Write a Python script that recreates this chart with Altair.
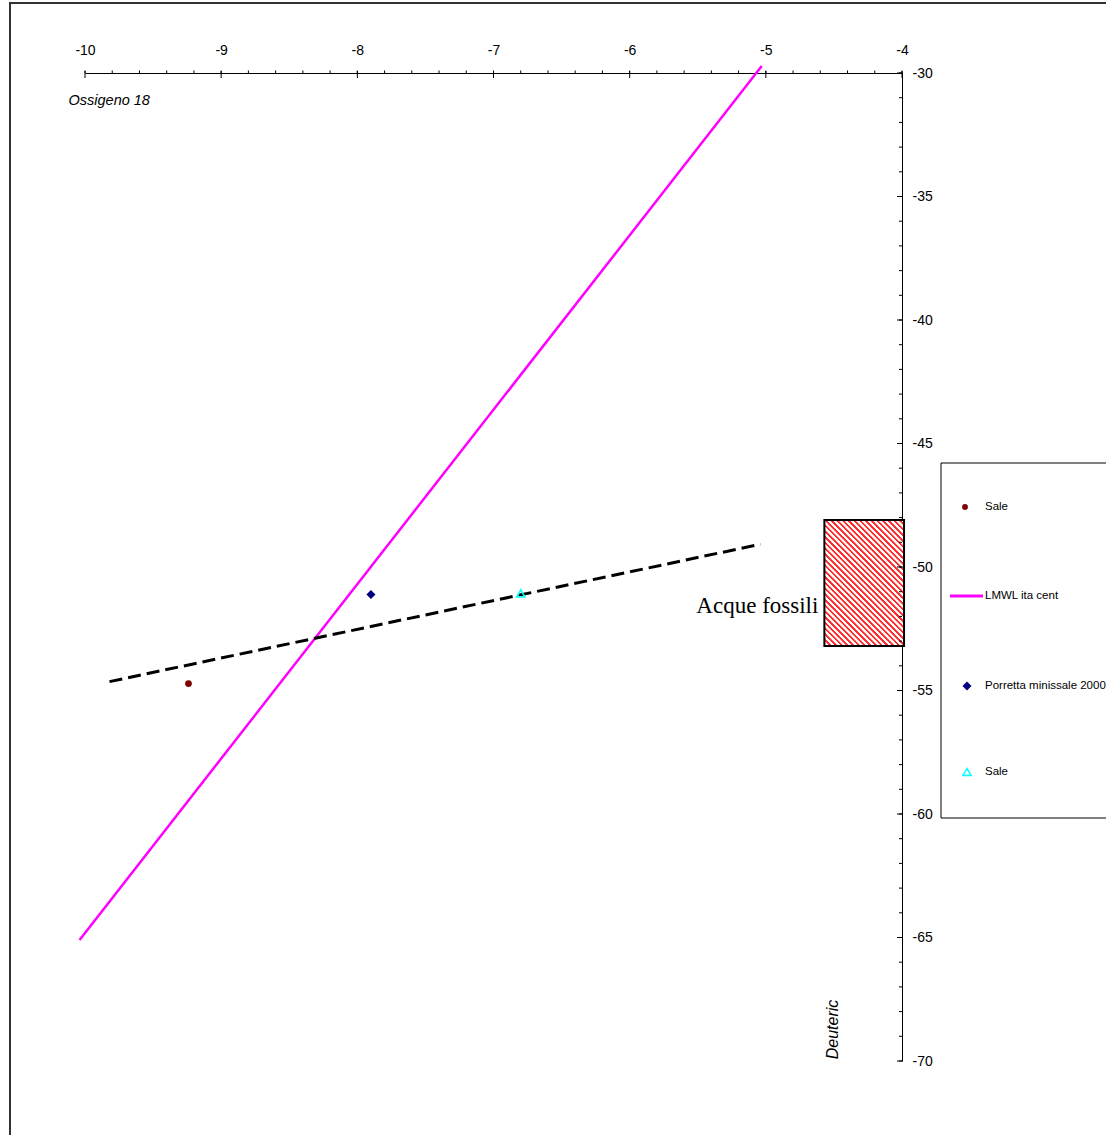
import altair as alt
import pandas as pd

# --- isotope data (delta 18O on x, delta D on y) ---
sale_o18 = [-9.24]
sale_dd = [-54.72]
porretta_o18 = [-7.90]
porretta_dd = [-51.11]
sale2_o18 = [-6.80]
sale2_dd = [-51.07]

# local meteoric water line, central Italy
lmwl_o18 = [-10.04, -5.03]
lmwl_dd = [-65.10, -29.72]

# dashed trend through the samples
trend_o18 = [-9.82, -5.04]
trend_dd = [-54.64, -49.08]

# fossil-water field
fossil_o18 = [-4.57, -3.985]
fossil_dd = [-53.20, -48.10]
fossil_label = "Acque fossili"
fossil_label_dd = -51.86

legend_names = ["Sale", "LMWL ita cent", "Porretta minissale 2000", "Sale"]

x_major = [-10, -9, -8, -7, -6, -5, -4]
x_minor = [round(-10 + 0.2 * i, 1) for i in range(31)]
y_major = [-70, -65, -60, -55, -50, -45, -40, -35, -30]
y_minor = list(range(-70, -29))

W, H = 817, 988
FONT = "Liberation Sans"

xs = alt.Scale(domain=[-10, -4], nice=False, zero=False)
ys = alt.Scale(domain=[-70, -30], nice=False, zero=False)

x_axis = alt.Axis(
    orient="top", values=x_major, ticks=False, tickSize=0, grid=False,
    labelExpr="'' + datum.value", labelPadding=16, labelFontSize=14,
    labelFlush=False, labelOverlap=False,
    labelFont=FONT, labelColor="black", domainColor="black", domainWidth=1,
    title="Ossigeno 18", titleFont=FONT, titleFontSize=14.5,
    titleFontStyle="italic", titleFontWeight="normal", titleColor="black",
    titleX=-17, titleY=31, titleAlign="left", titleBaseline="alphabetic",
)
y_axis = alt.Axis(
    orient="right", values=y_major, ticks=False, tickSize=0, grid=False,
    labelExpr="'' + datum.value", labelPadding=10, labelFontSize=14,
    labelFlush=False, labelOverlap=False,
    labelFont=FONT, labelColor="black", domainColor="black", domainWidth=1,
    title="Deuteric", titleFont=FONT, titleFontSize=16,
    titleFontStyle="italic", titleFontWeight="normal", titleColor="black",
    titleX=-70, titleY=956, titleAngle=270, titleAlign="center",
    titleBaseline="middle",
)


def xq(field):
    return alt.X(f"{field}:Q", scale=xs, axis=x_axis)


def yq(field):
    return alt.Y(f"{field}:Q", scale=ys, axis=y_axis)


# outer chart frame
frame = alt.Chart(pd.DataFrame({"k": [0]})).mark_rect(
    fill="transparent", stroke="#333333", strokeWidth=2
).encode(x=alt.value(-75), x2=alt.value(W + 400), y=alt.value(-70), y2=alt.value(H + 300))

lmwl = alt.Chart(pd.DataFrame({"o18": lmwl_o18, "dd": lmwl_dd})).mark_line(
    color="#ff00ff", strokeWidth=2.5
).encode(x=xq("o18"), y=yq("dd"))

trend = alt.Chart(pd.DataFrame({"o18": trend_o18, "dd": trend_dd})).mark_line(
    color="black", strokeWidth=3, strokeDash=[13, 6]
).encode(x=xq("o18"), y=yq("dd"))

# diagonal red hatch for the fossil-water box
N = 36
RED_PART = 0.42
stops = []
for i in range(N):
    a, b, c = i / N, (i + RED_PART) / N, (i + 1) / N
    stops += [
        {"offset": a, "color": "#ff2a2a"},
        {"offset": b - 0.002, "color": "#ff2a2a"},
        {"offset": b + 0.002, "color": "#ffffff"},
        {"offset": c - 0.002, "color": "#ffffff"},
    ]
hatch = {"gradient": "linear", "stops": stops, "x1": 0, "y1": 1, "x2": 0.74, "y2": -0.165}

fossil = alt.Chart(pd.DataFrame({
    "x1": [fossil_o18[0]], "x2": [fossil_o18[1]],
    "y1": [fossil_dd[0]], "y2": [fossil_dd[1]],
})).mark_rect(fill=hatch, stroke="black", strokeWidth=2).encode(
    x=xq("x1"), x2="x2:Q", y=yq("y1"), y2="y2:Q"
)

fossil_text = alt.Chart(pd.DataFrame({
    "o18": [fossil_o18[0]], "dd": [fossil_label_dd], "t": [fossil_label]
})).mark_text(
    align="right", baseline="alphabetic", dx=-6, font="Liberation Serif",
    fontSize=23, color="black"
).encode(x=xq("o18"), y=yq("dd"), text="t:N")

pt_sale = alt.Chart(pd.DataFrame({"o18": sale_o18, "dd": sale_dd})).mark_point(
    shape="circle", filled=True, size=45, color="#800000", opacity=1
).encode(x=xq("o18"), y=yq("dd"))

pt_porretta = alt.Chart(pd.DataFrame({"o18": porretta_o18, "dd": porretta_dd})).mark_point(
    shape="diamond", filled=True, size=82, color="#000080", opacity=1
).encode(x=xq("o18"), y=yq("dd"))

pt_sale2 = alt.Chart(pd.DataFrame({"o18": sale2_o18, "dd": sale2_dd})).mark_point(
    shape="triangle-up", filled=False, size=70, color="#00ffff", strokeWidth=1.5, opacity=1
).encode(x=xq("o18"), y=yq("dd"))

# axis ticks: major ones cross the axis line, minor ones are short stubs
xt_major = alt.Chart(pd.DataFrame({"v": x_major})).mark_rule(color="black", strokeWidth=1).encode(
    x=xq("v"), y=alt.value(-2), y2=alt.value(5))
xt_minor = alt.Chart(pd.DataFrame({"v": x_minor})).mark_rule(color="black", strokeWidth=1).encode(
    x=xq("v"), y=alt.value(-2.5), y2=alt.value(0))
yt_major = alt.Chart(pd.DataFrame({"v": y_major})).mark_rule(color="black", strokeWidth=1).encode(
    y=yq("v"), x=alt.value(W - 5), x2=alt.value(W + 1))
yt_minor = alt.Chart(pd.DataFrame({"v": y_minor})).mark_rule(color="black", strokeWidth=1).encode(
    y=yq("v"), x=alt.value(W - 3), x2=alt.value(W))

# legend panel
lg_box = alt.Chart(pd.DataFrame({"k": [0]})).mark_rect(
    fill="white", stroke="black", strokeWidth=1
).encode(x=alt.value(856), x2=alt.value(W + 400), y=alt.value(390), y2=alt.value(745))

lg_rows = [434, 523, 613, 699]
lg_sym1 = alt.Chart(pd.DataFrame({"k": [0]})).mark_point(
    shape="circle", filled=True, size=34, color="#800000", opacity=1
).encode(x=alt.value(880), y=alt.value(lg_rows[0]))
lg_sym2 = alt.Chart(pd.DataFrame({"k": [0]})).mark_rule(
    color="#ff00ff", strokeWidth=3
).encode(x=alt.value(865), x2=alt.value(898), y=alt.value(lg_rows[1]))
lg_sym3 = alt.Chart(pd.DataFrame({"k": [0]})).mark_point(
    shape="diamond", filled=True, size=82, color="#000080", opacity=1
).encode(x=alt.value(882), y=alt.value(lg_rows[2]))
lg_sym4 = alt.Chart(pd.DataFrame({"k": [0]})).mark_point(
    shape="triangle-up", filled=False, size=65, color="#00ffff", strokeWidth=1.5, opacity=1
).encode(x=alt.value(882), y=alt.value(lg_rows[3]))

lg_texts = [
    alt.Chart(pd.DataFrame({"t": [name]})).mark_text(
        align="left", baseline="middle", font=FONT, fontSize=11.5, color="black"
    ).encode(x=alt.value(900), y=alt.value(row), text="t:N")
    for name, row in zip(legend_names, lg_rows)
]

chart = alt.layer(
    frame, lmwl, trend, fossil, fossil_text,
    pt_sale, pt_porretta, pt_sale2,
    xt_major, xt_minor, yt_major, yt_minor,
    lg_box, lg_sym1, lg_sym2, lg_sym3, lg_sym4, *lg_texts,
).properties(
    width=W, height=H,
    autosize=alt.AutoSizeParams(type="none"),
    padding={"left": 85, "top": 73, "right": 1106 - 85 - W, "bottom": 1135 - 73 - H},
    background="white",
).configure_view(stroke=None)

chart.save("out.html", embed_options={"renderer": "svg", "actions": False})
